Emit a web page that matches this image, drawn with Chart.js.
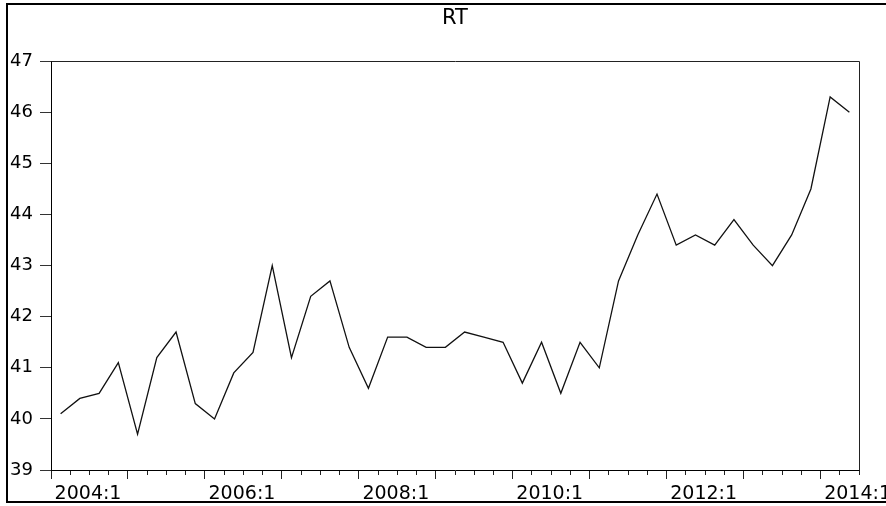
<!DOCTYPE html>
<html>
<head>
<meta charset="utf-8">
<script src="https://cdn.jsdelivr.net/npm/chart.js@4"></script>
<style>
  html, body { margin: 0; padding: 0; background: #fff; overflow: hidden; }
  #frame { position: absolute; left: 6px; top: 3px; width: 900px; height: 496px; border: 2px solid #000; }
  #c { position: absolute; left: 0; top: 0; }
</style>
</head>
<body>
<div id="frame"></div>
<canvas id="c" width="886" height="506"></canvas>
<script>
// Quarterly observations 2004:1 .. 2014:2
const years = [2004, 2005, 2006, 2007, 2008, 2009, 2010, 2011, 2012, 2013, 2014];
const quarters = [1, 2, 3, 4];
const categories = [];
years.forEach(y => quarters.forEach(q => { if (!(y === 2014 && q > 2)) categories.push(y + ':' + q); }));

const rtValues = [
  40.1, 40.4, 40.5, 41.1, 39.7, 41.2, 41.7, 40.3,
  40.0, 40.9, 41.3, 43.0, 41.2, 42.4, 42.7, 41.4,
  40.6, 41.6, 41.6, 41.4, 41.4, 41.7, 41.6, 41.5,
  40.7, 41.5, 40.5, 41.5, 41.0, 42.7, 43.6, 44.4,
  43.4, 43.6, 43.4, 43.9, 43.4, 43.0, 43.6, 44.5,
  46.3, 46.0
];

const yTicks = [39, 40, 41, 42, 43, 44, 45, 46, 47];
const titleText = 'RT';

const FONT = 'DejaVu Sans';

const plotBorder = {
  id: 'plotBorder',
  afterDraw(chart) {
    const { ctx, chartArea: a } = chart;
    ctx.save();
    ctx.strokeStyle = '#222';
    ctx.lineWidth = 1;
    ctx.beginPath();
    ctx.moveTo(Math.round(a.left) + 0.5, Math.round(a.top) + 0.5);
    ctx.lineTo(Math.round(a.right) + 0.5, Math.round(a.top) + 0.5);
    ctx.lineTo(Math.round(a.right) + 0.5, Math.round(a.bottom) + 0.5);
    ctx.stroke();
    ctx.restore();
  }
};

new Chart(document.getElementById('c'), {
  type: 'line',
  data: {
    labels: categories,
    datasets: [{
      label: titleText,
      data: rtValues,
      borderColor: '#111',
      borderWidth: 1.3,
      pointRadius: 0,
      tension: 0,
      fill: false,
      xAxisID: 'x',
      yAxisID: 'y'
    }]
  },
  options: {
    responsive: false,
    animation: false,
    devicePixelRatio: 1,
    layout: { padding: { left: 10, right: 27, top: 0, bottom: 0 } },
    plugins: {
      legend: { display: false },
      tooltip: { enabled: false },
      title: {
        display: true,
        fullSize: false,
        text: titleText,
        color: '#000',
        font: { family: FONT, size: 21, weight: 'normal', lineHeight: 1.2 },
        padding: { top: 6, bottom: 30 }
      }
    },
    scales: {
      y: {
        type: 'linear',
        min: yTicks[0],
        max: yTicks[yTicks.length - 1],
        afterFit(scale) { scale.width = 41; },
        afterBuildTicks(scale) { scale.ticks = yTicks.map(v => ({ value: v })); },
        ticks: {
          color: '#000',
          font: { family: FONT, size: 18 },
          crossAlign: 'far',
          padding: 2
        },
        grid: { drawOnChartArea: false, tickLength: 11, tickColor: '#333', tickWidth: 1 },
        border: { display: true, color: '#000', width: 1 }
      },
      x: {
        type: 'category',
        offset: true,
        weight: 0,
        afterFit(scale) { scale.height = 0; },
        ticks: { display: false, autoSkip: false },
        grid: { offset: true, drawOnChartArea: false, tickLength: 5, tickColor: '#222', tickWidth: 1 },
        border: { display: true, color: '#000', width: 1 }
      },
      x2: {
        type: 'category',
        position: 'bottom',
        labels: categories,
        offset: true,
        weight: 1,
        afterFit(scale) { scale.height = 36; },
        ticks: {
          autoSkip: false,
          maxRotation: 0,
          minRotation: 0,
          align: 'start',
          labelOffset: -6,
          padding: 4,
          color: '#000',
          font: { family: FONT, size: 19 },
          callback(val, idx) { return idx % 8 === 0 ? categories[idx] : ''; }
        },
        grid: {
          offset: true,
          drawOnChartArea: false,
          tickLength: 9,
          tickWidth: 1,
          tickColor(ctx) { return (ctx.index !== undefined && ctx.index % 4 === 0) ? '#222' : 'rgba(0,0,0,0)'; }
        },
        border: { display: false }
      }
    }
  },
  plugins: [plotBorder]
});
</script>
</body>
</html>
